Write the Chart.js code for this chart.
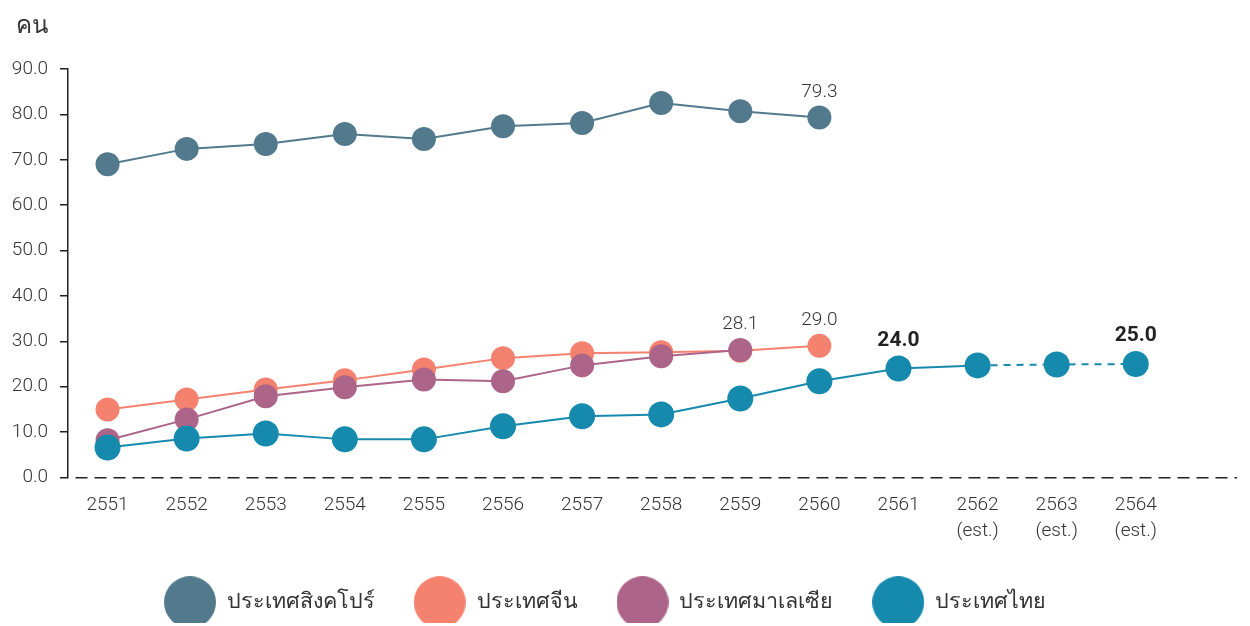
<!DOCTYPE html>
<html lang="th">
<head>
<meta charset="utf-8">
<title>chart</title>
<script src="https://cdn.jsdelivr.net/npm/chart.js@4.4.1/dist/chart.umd.min.js"></script>
<style>
	html, body { margin: 0; padding: 0; background: #fff; overflow: hidden; }
	#wrap { position: relative; width: 1250px; height: 623px; }
</style>
</head>
<body>
<div id="wrap"><canvas id="canvasChart"></canvas></div>
<script>
// data
var years = ['2551', '2552', '2553', '2554', '2555', '2556', '2557', '2558', '2559', '2560', '2561', '2562', '2563', '2564'];
var yearNotes = ['', '', '', '', '', '', '', '', '', '', '', '(est.)', '(est.)', '(est.)'];
var seriesNames = ['ประเทศสิงคโปร์', 'ประเทศจีน', 'ประเทศมาเลเซีย', 'ประเทศไทย'];
var singapore = [69.0, 72.4, 73.5, 75.7, 74.6, 77.4, 78.1, 82.5, 80.7, 79.3];
var china = [15.0, 17.2, 19.4, 21.4, 23.8, 26.3, 27.4, 27.6, 27.9, 29.0];
var malaysia = [8.2, 12.8, 17.9, 19.9, 21.6, 21.2, 24.7, 26.7, 28.1];
var thailand = [6.6, 8.6, 9.7, 8.4, 8.4, 11.3, 13.5, 13.9, 17.4, 21.2, 24.0, 24.7, 24.9, 25.0];
var yTicks = [0, 10, 20, 30, 40, 50, 60, 70, 80, 90];
var unitLabel = 'คน';
var estimateFrom = 11; // first estimated year index (dashed line from here)
// [dataset, point, bold]
var valueLabels = [[0, 9, false], [1, 9, false], [2, 8, false], [3, 10, true], [3, 13, true]];

var colors = ['#527a8c', '#f4826f', '#ad6489', '#168aad'];
var numFont = 'Roboto, "Liberation Sans", sans-serif';
var thaiFont = '"Noto Sans", sans-serif';
var legendShift = 18;

function toPoints(arr) {
	return arr.map(function(v, i) { return { x: i, y: v }; });
}

// big legend dots
function legendDot(color) {
	var c = document.createElement('canvas');
	c.width = 52; c.height = 52;
	var g = c.getContext('2d');
	g.fillStyle = color;
	g.beginPath();
	g.arc(26, 26, 26, 0, Math.PI * 2);
	g.fill();
	return c;
}
var legendDots = colors.map(legendDot);

// value labels + unit
var pointLabels = {
	id: 'pointLabels',
	afterLayout: function(chart) {
		// legend sits a bit left of centre in the original
		chart.legend.left -= legendShift;
		chart.legend.right -= legendShift;
	},
	afterDatasetsDraw: function(chart) {
		var ctx = chart.ctx;
		ctx.save();
		ctx.textAlign = 'center';
		ctx.textBaseline = 'alphabetic';
		valueLabels.forEach(function(l) {
			var pt = chart.getDatasetMeta(l[0]).data[l[1]];
			var v = chart.data.datasets[l[0]].data[l[1]].y;
			if (l[2]) {
				ctx.font = 'bold 21px ' + numFont;
				ctx.fillStyle = '#222';
				ctx.fillText(v.toFixed(1), pt.x, pt.y - 23);
			} else {
				ctx.font = '300 19px ' + numFont;
				ctx.fillStyle = '#333';
				ctx.fillText(v.toFixed(1), pt.x, pt.y - 21);
			}
		});
		ctx.textAlign = 'left';
		ctx.font = '300 24px ' + thaiFont;
		ctx.fillStyle = '#333';
		ctx.fillText(unitLabel, 16, 33);
		ctx.restore();
	}
};

function makeSet(i, arr, radius) {
	return {
		label: seriesNames[i],
		data: toPoints(arr),
		borderColor: colors[i],
		backgroundColor: colors[i],
		borderWidth: 2,
		pointRadius: radius,
		pointHoverRadius: radius,
		pointBorderWidth: 0,
		tension: 0,
		order: 3 - i
	};
}

var thaiSet = makeSet(3, thailand, 13);
thaiSet.segment = {
	borderDash: function(ctx) { return ctx.p0DataIndex >= estimateFrom ? [7, 6] : undefined; }
};

var config = {
	type: 'line',
	data: {
		datasets: [
			makeSet(0, singapore, 12),
			makeSet(1, china, 12),
			makeSet(2, malaysia, 12),
			thaiSet
		]
	},
	options: {
		responsive: true,
		maintainAspectRatio: false,
		animation: false,
		layout: { padding: { top: 69, right: 4, left: 0, bottom: 0 } },
		plugins: {
			tooltip: { enabled: false },
			title: { display: false },
			legend: {
				position: 'bottom',
				labels: {
					usePointStyle: true,
					pointStyleWidth: 52,
					padding: 39,
					color: '#333',
					font: { family: thaiFont, size: 21.5, weight: '300' },
					sort: function(a, b) { return a.datasetIndex - b.datasetIndex; },
					generateLabels: function(chart) {
						var items = Chart.defaults.plugins.legend.labels.generateLabels(chart);
						items.forEach(function(it) { it.pointStyle = legendDots[it.datasetIndex]; });
						return items;
					}
				}
			}
		},
		scales: {
			x: {
				type: 'linear',
				min: -0.5,
				max: 14.28,
				afterFit: function(s) { s.height = 75; },
				grid: { display: true, drawOnChartArea: false, drawTicks: true, tickLength: 14, tickColor: 'rgba(0,0,0,0)' },
				border: { display: false },
				ticks: {
					stepSize: 1,
					autoSkip: false,
					maxRotation: 0,
					includeBounds: false,
					padding: 0,
					color: '#333',
					font: { family: numFont, size: 19, weight: '300', lineHeight: 1.4 },
					callback: function(v) {
						if (!Number.isInteger(v) || v < 0 || v >= years.length) return '';
						return yearNotes[v] ? [years[v], yearNotes[v]] : years[v];
					}
				}
			},
			y: {
				min: 0,
				max: 90,
				afterFit: function(s) { s.width = 68; },
				afterBuildTicks: function(s) { s.ticks = yTicks.map(function(v) { return { value: v }; }); },
				grid: {
					drawOnChartArea: true,
					drawTicks: true,
					tickLength: 8,
					lineWidth: 1.5,
					tickColor: '#222',
					tickBorderDash: [],
					color: function(c) { return c.tick && c.tick.value === 0 ? '#222' : 'rgba(0,0,0,0)'; }
				},
				border: { display: true, color: '#222', width: 1.5, dash: [12, 7], dashOffset: 12 },
				ticks: {
					padding: 12,
					color: '#333',
					font: { family: numFont, size: 19, weight: '300' },
					callback: function(v) { return v.toFixed(1); }
				}
			}
		}
	},
	plugins: [pointLabels]
};

window.myLine = new Chart(document.getElementById('canvasChart'), config);
</script>
</body>
</html>
